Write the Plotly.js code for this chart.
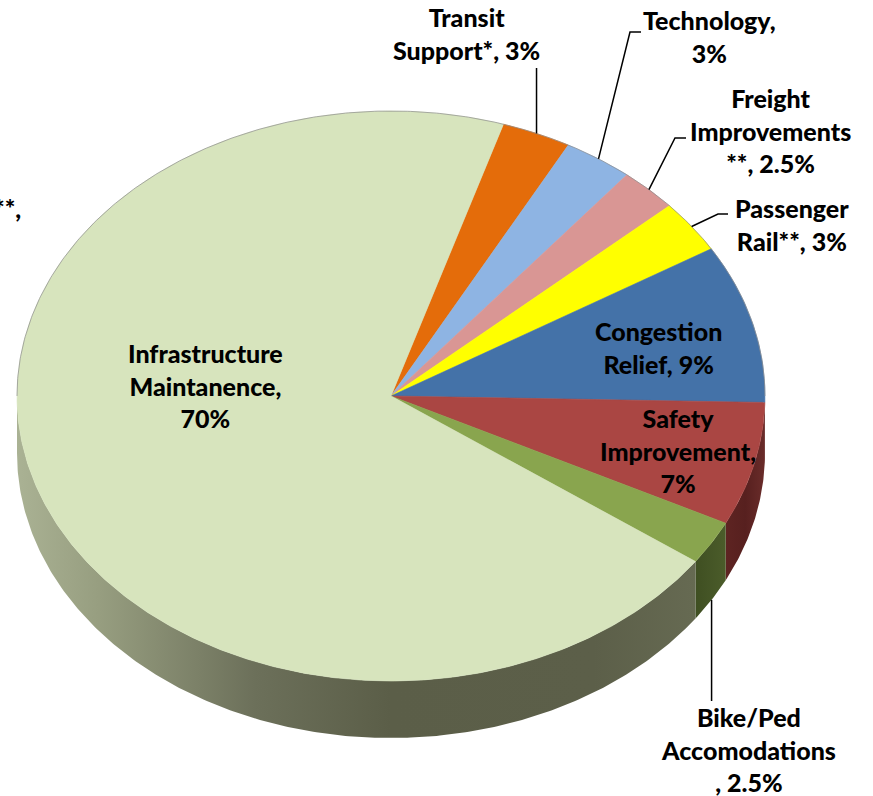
<!DOCTYPE html>
<html>
<head>
<meta charset="utf-8">
<script src="https://cdn.plot.ly/plotly-3.0.1.min.js"></script>
<style>html,body{margin:0;padding:0;background:#fff;}#chart{width:873px;height:796px;}</style>
</head>
<body>
<div id="chart"></div>
<script>
// ---- data ----
const categories = ['Transit Support*', 'Technology', 'Freight Improvements**', 'Passenger Rail**',
  'Congestion Relief', 'Safety Improvement', 'Bike/Ped Accomodations', 'Infrastructure Maintanence'];
const values = [3, 3, 2.5, 3, 9, 7, 2.5, 70];
const labelTexts = ['Transit<br>Support*, 3%', 'Technology,<br>3%', 'Freight<br>Improvements<br>**, 2.5%',
  'Passenger<br>Rail**, 3%', 'Congestion<br>Relief, 9%', 'Safety<br>Improvement,<br>7%',
  'Bike/Ped<br>Accomodations<br>, 2.5%', 'Infrastructure<br>Maintanence,<br>70%'];

// ---- styles ----
const topColors = ['#E46C0A', '#8EB4E3', '#D99694', '#FFFF00', '#4472A8', '#AA4643', '#89A54E', '#D7E4BD'];
const sideScales = [
  [[0, '#8a4006'], [1, '#6e3305']],
  [[0, '#55708f'], [1, '#455b75']],
  [[0, '#8a5e5d'], [1, '#704b4a']],
  [[0, '#a0a000'], [1, '#808000']],
  [[0, '#2b4a6e'], [1, '#223b58']],
  [[0, '#5e2422'], [0.5, '#57201f'], [1, '#6a2c2a']],
  [[0, '#3f4f22'], [1, '#4b5c2a']],
  [[0, '#aab294'], [0.12, '#979e80'], [0.35, '#6c705a'], [0.55, '#5b5e48'], [0.85, '#5c5f49'], [1, '#666a52']]
];
// label placement
const labelPos = [[466, 33], [709, 36], [770, 130], [792, 224], [658, 347], [678, 450], [748, 749], [205, 385]];
const leaderElbows = [[null, 68], [630, 32, 641], [675, 138, 686], [718, 214, 728], null, null, [null, 701], null];

// geometry (pixel space)
const CX = 391, CY = 396, RX = 374, RY = 285, DEPTH = 57, START = 17.5;
const W = 873, H = 796;

function pt(deg, dy) {
  const t = deg * Math.PI / 180;
  return [CX + RX * Math.sin(t), CY - RY * Math.cos(t) + (dy || 0)];
}
function arc(a, b, dy) {
  const n = Math.max(2, Math.ceil(Math.abs(b - a) / 0.5));
  const xs = [], ys = [];
  for (let i = 0; i <= n; i++) {
    const p = pt(a + (b - a) * i / n, dy);
    xs.push(p[0]); ys.push(p[1]);
  }
  return [xs, ys];
}

const total = values.reduce((s, v) => s + v, 0);
const bounds = [];
let acc = START;
values.forEach(v => { const a = acc; acc += v / total * 360; bounds.push([a, acc]); });

const traces = [];
// side walls (front half visible: 90..270 deg)
bounds.forEach((bd, i) => {
  const a = Math.max(bd[0], 90), b = Math.min(bd[1], 270);
  if (b <= a) return;
  const top = arc(a, b, 0), bot = arc(b, a, DEPTH);
  traces.push({
    type: 'scatter', mode: 'lines', x: top[0].concat(bot[0]), y: top[1].concat(bot[1]),
    fill: 'toself', fillcolor: topColors[i],
    fillgradient: {type: 'horizontal', colorscale: sideScales[i]},
    line: {width: 0}, hoverinfo: 'skip', showlegend: false
  });
});
// top faces
bounds.forEach((bd, i) => {
  const ar = arc(bd[0], bd[1], 0);
  traces.push({
    type: 'scatter', mode: 'lines', x: [CX].concat(ar[0], [CX]), y: [CY].concat(ar[1], [CY]),
    fill: 'toself', fillcolor: topColors[i], line: {width: 0.6, color: topColors[i]},
    hoverinfo: 'skip', showlegend: false, name: categories[i]
  });
});
// faint rim on back edge
const rim = arc(-90, 90, 0);
traces.push({type: 'scatter', mode: 'lines', x: rim[0], y: rim[1],
  line: {width: 1, color: 'rgba(140,140,140,0.7)'}, hoverinfo: 'skip', showlegend: false});

// annotations + leader lines
const font = {family: 'Lato, "Open Sans", sans-serif', size: 25, color: '#000', weight: 900};
const annotations = labelTexts.map((t, i) => ({
  x: labelPos[i][0], y: labelPos[i][1], xref: 'x', yref: 'y', text: t,
  showarrow: false, align: 'center', font: font
}));
annotations.push({x: 23, y: 208, xref: 'x', yref: 'y', xanchor: 'right', text: '**,', showarrow: false, font: font});

const shapes = [];
bounds.forEach((bd, i) => {
  const e = leaderElbows[i];
  if (!e) return;
  const mid = (bd[0] + bd[1]) / 2;
  const onWall = mid > 90 && mid < 270;
  const p = pt(mid, onWall ? DEPTH : 0);
  let path;
  if (e[0] === null) {
    path = `M${p[0]},${p[1]} L${p[0]},${e[1]}`;
  } else {
    path = `M${p[0]},${p[1]} L${e[0]},${e[1]} L${e[2]},${e[1]}`;
  }
  shapes.push({type: 'path', xref: 'x', yref: 'y', path: path, line: {color: '#000', width: 1.5}});
});

const layout = {
  width: W, height: H, margin: {l: 0, r: 0, t: 0, b: 0},
  paper_bgcolor: '#fff', plot_bgcolor: '#fff', showlegend: false,
  xaxis: {range: [0, W], visible: false, fixedrange: true},
  yaxis: {range: [H, 0], visible: false, fixedrange: true},
  annotations: annotations, shapes: shapes
};
Plotly.newPlot('chart', traces, layout, {displayModeBar: false, staticPlot: true});
</script>
</body>
</html>
